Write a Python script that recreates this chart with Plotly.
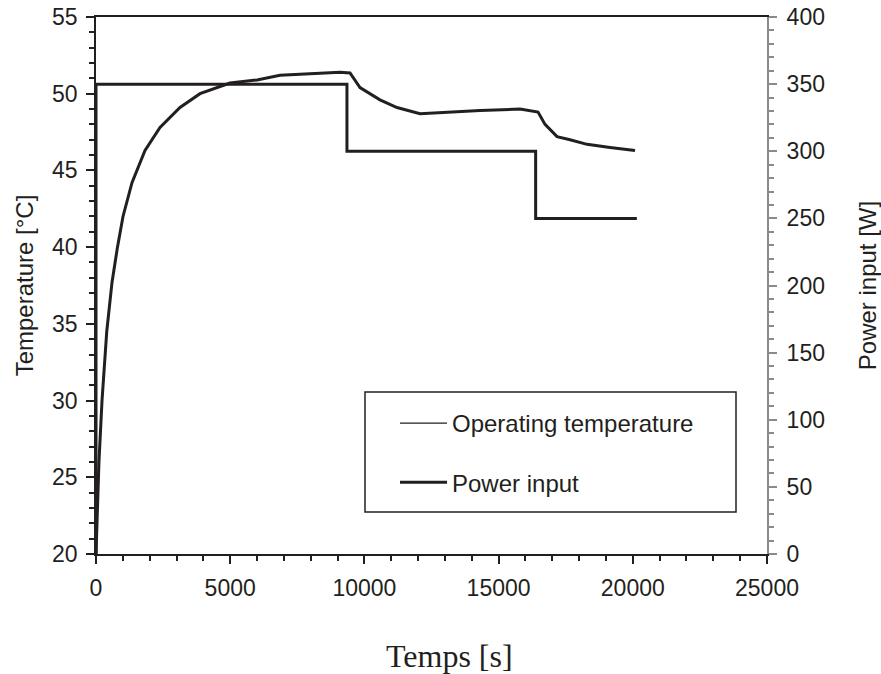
import plotly.graph_objects as go

# ---- data ----
time_s = [0, 40, 110, 224, 400, 596, 800, 1006, 1341, 1826, 2385, 3130, 3875,
          4993, 6000, 6856, 8000, 9091, 9464, 9836, 10582, 11215, 12072, 13078,
          14308, 15798, 16469, 16730, 17177, 17661, 18295, 19152, 20083]
temperature_c = [20.0, 22.5, 26.0, 30.0, 34.5, 37.7, 40.0, 42.0, 44.2, 46.3,
                 47.8, 49.1, 50.0, 50.7, 50.9, 51.2, 51.3, 51.4, 51.35, 50.4,
                 49.6, 49.1, 48.7, 48.8, 48.9, 49.0, 48.8, 48.0, 47.2, 47.0,
                 46.7, 46.5, 46.3]

power_time_s = [0, 0, 9350, 16380, 20150]
power_w = [0, 350, 300, 250, 250]

x_ticks = [0, 5000, 10000, 15000, 20000, 25000]
temp_ticks = [20, 25, 30, 35, 40, 45, 50, 55]
power_ticks = [0, 50, 100, 150, 200, 250, 300, 350, 400]

# ---- layout geometry (pixels) ----
W, H = 881, 674
L, R, T, B = 96, 767, 17, 554

def px(xp):
    return (xp - L) / (R - L)

def py(yp):
    return (B - yp) / (B - T)

SANS = "Liberation Sans, Arial, sans-serif"
SERIF = "Liberation Serif, Times New Roman, serif"
DARK = "#231f20"
GREY = "#8a8a8a"

fig = go.Figure()

# temperature data (noisy band drawn thicker)
fig.add_trace(go.Scatter(
    x=time_s, y=temperature_c, mode="lines",
    line=dict(color=DARK, width=3), showlegend=False, yaxis="y"))
# legend entry for temperature (thin line)
fig.add_trace(go.Scatter(
    x=[None], y=[None], mode="lines", name="Operating temperature",
    line=dict(color=DARK, width=1.2), legendgroup="a", yaxis="y"))
# power input
fig.add_trace(go.Scatter(
    x=power_time_s, y=power_w, mode="lines", name="Power input",
    line=dict(color=DARK, width=3, shape="hv"), legendgroup="b", yaxis="y2"))

fig.update_layout(
    width=W, height=H,
    margin=dict(l=L, r=W - R, t=T, b=H - B, autoexpand=False),
    paper_bgcolor="white", plot_bgcolor="white",
    font=dict(family=SANS, size=23, color=DARK),
    xaxis=dict(
        range=[0, 25000], tickvals=x_ticks, tickformat="d", ticks="outside", ticklen=8,
        tickwidth=1.5, tickcolor=DARK, showline=True, linecolor=DARK,
        linewidth=1.5, mirror=True, showgrid=False, zeroline=False,
        tickfont=dict(family=SANS, size=23, color=DARK),
        ticklabelstandoff=5,
        minor=dict(dtick=1000, ticks="outside", ticklen=5, tickwidth=1.5,
                   tickcolor=DARK, showgrid=False),
    ),
    yaxis=dict(
        range=[20, 55], tickvals=temp_ticks, ticks="outside", ticklen=8,
        tickwidth=1.5, tickcolor=DARK, showline=True, linecolor=DARK,
        linewidth=1.5, showgrid=False, zeroline=False,
        tickfont=dict(family=SANS, size=23, color=DARK),
        ticklabelstandoff=4,
        minor=dict(dtick=1, ticks="outside", ticklen=5, tickwidth=1.5,
                   tickcolor=DARK, showgrid=False),
        title=dict(text="Temperature [°C]", font=dict(family=SANS, size=24, color=DARK),
                   standoff=12),
    ),
    yaxis2=dict(
        range=[0, 400], tickvals=power_ticks, overlaying="y", side="right",
        ticks="outside", ticklen=8, tickwidth=1.5, tickcolor=GREY,
        showline=True, linecolor=GREY, linewidth=2, showgrid=False,
        zeroline=False, tickfont=dict(family=SANS, size=23, color=DARK),
        ticklabelstandoff=5,
        minor=dict(dtick=10, ticks="outside", ticklen=5, tickwidth=1.5,
                   tickcolor=GREY, showgrid=False),
        title=dict(text="Power input [W]", font=dict(family=SANS, size=24, color=DARK),
                   standoff=36),
    ),
    legend=dict(
        x=px(395), y=py(401), xanchor="left", yanchor="top",
        bgcolor="rgba(0,0,0,0)", borderwidth=0,
        font=dict(family=SANS, size=24, color=DARK),
        traceorder="grouped", tracegroupgap=25, itemwidth=47,
    ),
    shapes=[dict(type="rect", xref="paper", yref="paper",
                 x0=px(365), x1=px(736), y0=py(512), y1=py(392),
                 line=dict(color=DARK, width=1.5), fillcolor="rgba(0,0,0,0)",
                 layer="above")],
    annotations=[dict(text="Temps [s]", xref="paper", yref="paper",
                      x=px(449), y=py(636), xanchor="center", yanchor="top",
                      showarrow=False,
                      font=dict(family=SERIF, size=32, color=DARK))],
)

fig.write_html("out.html", config={"displayModeBar": False},
               post_script="document.body.style.margin='0px';")
